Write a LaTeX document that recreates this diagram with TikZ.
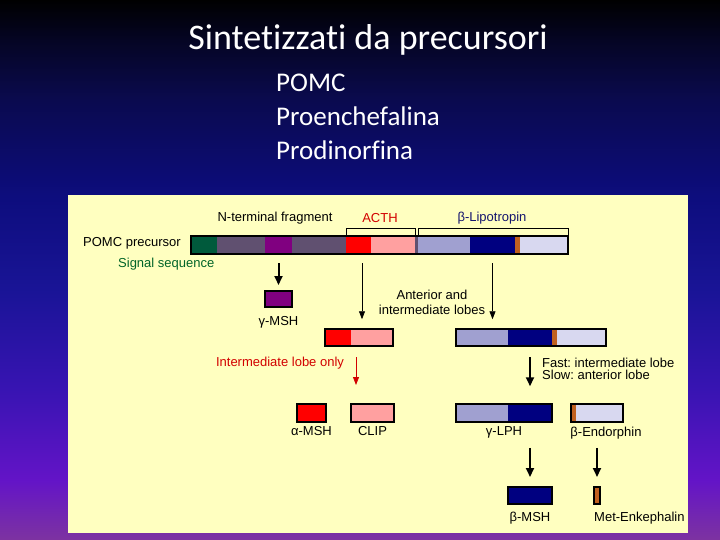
\documentclass[tikz,border=0pt]{standalone}
\usepackage{fontspec}
\setmainfont{Liberation Sans}
\newfontfamily\slidefont[Ligatures=NoCommon]{Carlito}
\usetikzlibrary{positioning,fit,arrows.meta}
\definecolor{PanelYellow}{RGB}{255,255,192}
\definecolor{SigGreen}{RGB}{0,90,60}
\definecolor{NtGrey}{RGB}{96,80,112}
\definecolor{GMshPurple}{RGB}{128,0,128}
\definecolor{AMshRed}{RGB}{255,0,0}
\definecolor{ClipPink}{RGB}{255,160,160}
\definecolor{LphBlue}{RGB}{160,160,208}
\definecolor{BMshNavy}{RGB}{0,0,128}
\definecolor{EnkOrange}{RGB}{192,96,32}
\definecolor{EndLav}{RGB}{216,216,240}
\definecolor{LabelRed}{RGB}{210,0,0}
\definecolor{LabelNavy}{RGB}{20,20,110}
\definecolor{LabelGreen}{RGB}{0,100,40}
\pgfdeclareverticalshading{slidebg}{100bp}{%
  rgb(0bp)=(0.49,0.2,0.63); rgb(25bp)=(0.49,0.2,0.63);
  rgb(30.5bp)=(0.39,0.08,0.78); rgb(38.9bp)=(0.22,0.08,0.7);
  rgb(48.1bp)=(0.1,0.08,0.59); rgb(56.9bp)=(0.05,0.05,0.49);
  rgb(65.7bp)=(0.04,0.04,0.31); rgb(71.3bp)=(0.02,0.02,0.14);
  rgb(75bp)=(0,0,0); rgb(100bp)=(0,0,0)}
\frenchspacing

\begin{document}
\begin{tikzpicture}[
    x=1pt, y=-1pt,
    lbl/.style={inner sep=0pt, font=\fontsize{13}{13.5}\selectfont},
    seg/.style={inner sep=0pt, outer sep=0pt, minimum height=18pt},
    box/.style={seg, draw, line width=1.2pt},
    frame/.style={draw, line width=1.5pt, inner sep=0pt},
    bracket/.style={draw, line width=0.8pt},
    bigarrow/.style={draw, line width=2pt, -{Triangle[length=9pt,width=8pt]}},
    thinarrow/.style={draw, line width=0.8pt, -{Triangle[length=8pt,width=6pt]}},
    slidetext/.style={inner sep=0pt, text=white, anchor=base west,
        font=\slidefont\fontsize{27}{30}\selectfont}
]

\useasboundingbox (0,0) rectangle (720,540);
\shade[shading=slidebg] (0,0) rectangle (720,540);
\fill[PanelYellow] (68,195) rectangle (688,533);

% slide title
\node[inner sep=0pt, text=white, anchor=base,
    font=\slidefont\fontsize{36}{40}\selectfont] (title) at (368,50)
    {Sintetizzati da precursori};
\node[slidetext] (pomc) at (276,92) {POMC};
\node[slidetext] (penk) at (276,126) {Proenchefalina};
\node[slidetext] (pdyn) at (276,160) {Prodinorfina};

% POMC precursor
\node[seg, anchor=west, fill=SigGreen, minimum width=26pt] (sig) at (191,245) {};
\node[seg, right=0pt of sig, fill=NtGrey, minimum width=48pt] (nt1) {};
\node[seg, right=0pt of nt1, fill=GMshPurple, minimum width=27pt] (gmsh) {};
\node[seg, right=0pt of gmsh, fill=NtGrey, minimum width=54pt] (nt2) {};
\node[seg, right=0pt of nt2, fill=AMshRed, minimum width=25pt] (amsh) {};
\node[seg, right=0pt of amsh, fill=ClipPink, minimum width=44pt] (clip) {};
\node[seg, right=0pt of clip, fill=NtGrey, minimum width=3pt] (join) {};
\node[seg, right=0pt of join, fill=LphBlue, minimum width=52pt] (glph) {};
\node[seg, right=0pt of glph, fill=BMshNavy, minimum width=45pt] (bmsh) {};
\node[seg, right=0pt of bmsh, fill=EnkOrange, minimum width=5pt] (menk) {};
\node[seg, right=0pt of menk, fill=EndLav, minimum width=48pt] (bend) {};
\node[frame, fit=(sig)(bend)] (pomcbar) {};

\draw[bracket] (amsh.north west) -- ++(0,-8) -| (clip.north east);
\draw[bracket] (glph.north west) -- ++(0,-8) -| (bend.north east);

\node[lbl] (ntlab) at (275,218) {N-terminal fragment};
\node[lbl, text=LabelRed] (acthlab) at (380,218) {ACTH};
\node[lbl, text=LabelNavy] (lpholab) at (492,218) {β-Lipotropin};
\node[lbl, anchor=west] (pomclab) at (83,243) {POMC precursor};
\node[lbl, anchor=west, text=LabelGreen] (siglab) at (118,264) {Signal sequence};

% gamma-MSH
\node[box, fill=GMshPurple, minimum width=27pt, minimum height=16pt] (gbox) at (278.5,299) {};
\node[lbl, below=9pt of gbox] (gboxlab) {γ-MSH};
\draw[bigarrow, shorten <=9pt, shorten >=6pt] (gmsh.south) -- (gbox.north);

% ACTH and beta-lipotropin
\node[seg, anchor=west, fill=AMshRed, minimum width=26pt, minimum height=17pt] (a2) at (325,337.5) {};
\node[seg, right=0pt of a2, fill=ClipPink, minimum width=42pt, minimum height=17pt] (c2) {};
\node[frame, fit=(a2)(c2)] (act2) {};
\node[seg, anchor=west, fill=LphBlue, minimum width=52pt, minimum height=17pt] (g2) at (456,337.5) {};
\node[seg, right=0pt of g2, fill=BMshNavy, minimum width=44pt, minimum height=17pt] (b2) {};
\node[seg, right=0pt of b2, fill=EnkOrange, minimum width=5pt, minimum height=17pt] (m2) {};
\node[seg, right=0pt of m2, fill=EndLav, minimum width=49pt, minimum height=17pt] (e2) {};
\node[frame, fit=(g2)(e2)] (lph2) {};

\draw[thinarrow, shorten <=9pt, shorten >=9pt]
    ([xshift=3.5pt]amsh.south) -- ([xshift=3.5pt]amsh.south |- act2.north);
\draw[thinarrow, shorten <=9pt, shorten >=9pt] (bmsh.south) -- (bmsh.south |- lph2.north);
\node[lbl, align=center, font=\fontsize{13}{15}\selectfont] (antlab) at (432,302)
    {Anterior and\\intermediate lobes};

% third row
\node[box, anchor=west, fill=AMshRed, minimum width=29pt] (amsh3) at (297,413) {};
\node[box, anchor=west, fill=ClipPink, minimum width=43pt] (clip3) at (351,413) {};
\node[seg, anchor=west, fill=LphBlue, minimum width=52pt] (g3) at (456,413) {};
\node[seg, right=0pt of g3, fill=BMshNavy, minimum width=44pt] (b3) {};
\node[frame, fit=(g3)(b3)] (lph3) {};
\node[seg, anchor=west, fill=EnkOrange, minimum width=5pt] (m3) at (571,413) {};
\node[seg, right=0pt of m3, fill=EndLav, minimum width=47pt] (e3) {};
\node[frame, fit=(m3)(e3)] (end3) {};

\node[lbl, text=LabelRed] (intlab) at (280,363) {Intermediate lobe only};
\draw[thinarrow, draw=LabelRed, shorten <=11pt, shorten >=19pt]
    ([xshift=5pt]c2.south west) -- ([xshift=5pt]clip3.north west);
\node[lbl, anchor=west, align=left, font=\fontsize{13}{12.5}\selectfont] (fastlab) at (542,369)
    {Fast: intermediate lobe\\Slow: anterior lobe};
\draw[bigarrow, shorten <=11pt, shorten >=17pt] (b2.south) -- (b2.south |- lph3.north);

\node[lbl, below=4pt of amsh3] (amshlab) {α-MSH};
\node[lbl, below=4pt of clip3] (cliplab) {CLIP};
\node[lbl, below=4pt of lph3] (lphlab) {γ-LPH};
\node[lbl, below=4pt of end3.south west, anchor=north west] (endlab) {β-Endorphin};

% fourth row
\node[box, anchor=west, fill=BMshNavy, minimum width=44pt, minimum height=17pt] (bmsh4) at (508,495.5) {};
\node[box, anchor=west, fill=EnkOrange, minimum width=6pt, minimum height=17pt] (menk4) at (594,495.5) {};
\draw[bigarrow, shorten <=25pt, shorten >=10pt] (bmsh4.north |- lph3.south) -- (bmsh4.north);
\draw[bigarrow, shorten <=25pt, shorten >=10pt] (menk4.north |- end3.south) -- (menk4.north);

\node[lbl, below=8pt of bmsh4] (bmshlab) {β-MSH};
\node[lbl, below=8pt of menk4.south west, anchor=north west] (menklab) {Met-Enkephalin};

\end{tikzpicture}
\end{document}
